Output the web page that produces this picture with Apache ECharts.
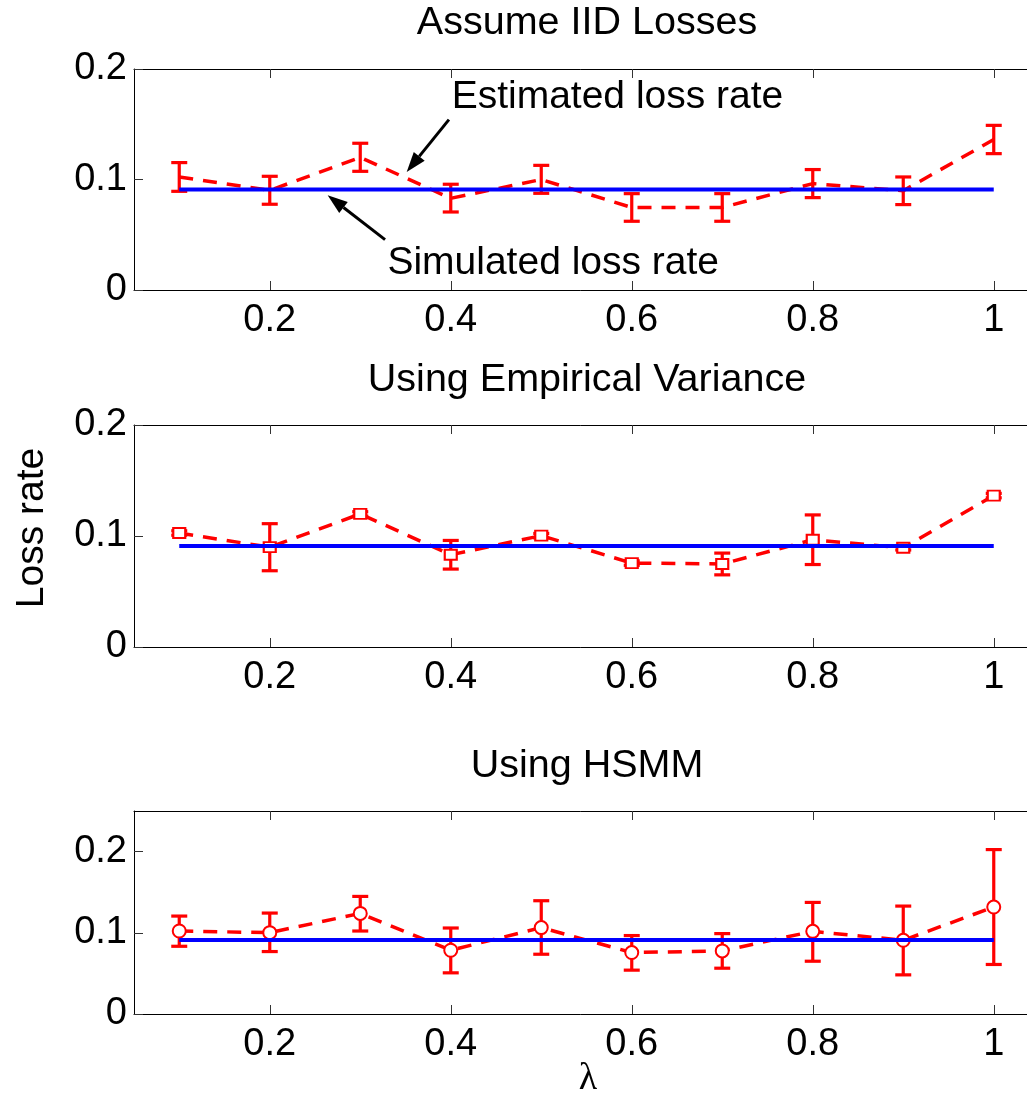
<!DOCTYPE html>
<html>
<head>
<meta charset="utf-8">
<script src="https://cdn.jsdelivr.net/npm/echarts@6/dist/echarts.min.js"></script>
<style>
  html, body { margin: 0; padding: 0; background: #fff; }
  #chart { width: 1027px; height: 1096px; }
</style>
</head>
<body>
<div id="chart"></div>
<script>
// lambda values on the x axis
const lambdaValues = [0.1, 0.2, 0.3, 0.4, 0.5, 0.6, 0.7, 0.8, 0.9, 1.0];
const simulatedRate = [0.091, 0.091, 0.091, 0.091, 0.091, 0.091, 0.091, 0.091, 0.091, 0.091];

// Assume IID Losses
const iidMean = [0.1023, 0.0902, 0.1200, 0.0830, 0.1000, 0.0747, 0.0747, 0.0963, 0.0898, 0.1362];
const iidLow  = [0.0893, 0.0776, 0.1074, 0.0706, 0.0875, 0.0622, 0.0622, 0.0836, 0.0773, 0.1234];
const iidHigh = [0.1153, 0.1029, 0.1328, 0.0957, 0.1128, 0.0872, 0.0872, 0.1090, 0.1023, 0.1490];

// Using Empirical Variance
const empMean = [0.1027, 0.0899, 0.1199, 0.0831, 0.1003, 0.0756, 0.0748, 0.0966, 0.0894, 0.1364];
const empLow  = [0.1007, 0.0687, 0.1179, 0.0702, 0.0983, 0.0736, 0.0650, 0.0743, 0.0874, 0.1344];
const empHigh = [0.1047, 0.1111, 0.1219, 0.0960, 0.1023, 0.0776, 0.0846, 0.1190, 0.0914, 0.1384];

// Using HSMM
const hsmmMean = [0.1022, 0.1002, 0.1239, 0.0785, 0.1064, 0.0757, 0.0777, 0.1018, 0.0908, 0.1317];
const hsmmLow  = [0.0834, 0.0769, 0.1022, 0.0507, 0.0736, 0.0540, 0.0564, 0.0650, 0.0482, 0.0610];
const hsmmHigh = [0.1206, 0.1243, 0.1448, 0.1059, 0.1395, 0.0966, 0.0990, 0.1374, 0.1329, 0.2025];

const xTicks = [0.2, 0.4, 0.6, 0.8, 1];
const yTicks = [0, 0.1, 0.2];
const panelTitles = ['Assume IID Losses', 'Using Empirical Variance', 'Using HSMM'];
const yMax = [0.2, 0.2, 0.25];

const FONT = '"Liberation Sans", Arial, Helvetica, sans-serif';
const RED = '#ff0000';
const BLUE = '#0000ff';

// plot boxes run past the right edge of the page, like the original
const grids = [
  { left: 134, top: 69, width: 905, height: 221, outerBoundsMode: 'none' },
  { left: 134, top: 425, width: 905, height: 222, outerBoundsMode: 'none' },
  { left: 134, top: 811, width: 905, height: 203, outerBoundsMode: 'none' }
];

const zip = (a, b) => a.map((v, i) => [v, b[i]]);
const zip3 = (a, b, c) => a.map((v, i) => [v, b[i], c[i]]);

function errRender(params, api){
  const x = api.value(0);
  const hi = api.coord([x, api.value(2)]);
  const lo = api.coord([x, api.value(1)]);
  const w = 8;
  const style = { stroke: RED, lineWidth: 3.2 };
  return {
    type: 'group',
    children: [
      { type: 'line', shape: { x1: hi[0], y1: hi[1], x2: lo[0], y2: lo[1] }, style },
      { type: 'line', shape: { x1: hi[0] - w, y1: hi[1], x2: hi[0] + w, y2: hi[1] }, style },
      { type: 'line', shape: { x1: lo[0] - w, y1: lo[1], x2: lo[0] + w, y2: lo[1] }, style }
    ]
  };
}

const xAxes = [], yAxes = [], series = [];
const panels = [
  { mean: iidMean, low: iidLow, high: iidHigh, symbol: 'none', size: 0, border: 3.5 },
  { mean: empMean, low: empLow, high: empHigh, symbol: 'emptyRect', size: [12, 10], border: 4.5 },
  { mean: hsmmMean, low: hsmmLow, high: hsmmHigh, symbol: 'emptyCircle', size: 13, border: 3.5 }
];

panels.forEach((p, i) => {
  xAxes.push({
    type: 'value', gridIndex: i, position: 'bottom', min: 0.05, max: 1.05,
    axisLine: { lineStyle: { color: '#000', width: 1 } },
    axisTick: { inside: true, length: 9, customValues: xTicks, lineStyle: { color: '#333' } },
    axisLabel: { customValues: xTicks, color: '#000', fontSize: 38, fontFamily: FONT, margin: 12 },
    splitLine: { show: false }
  });
  xAxes.push({
    type: 'value', gridIndex: i, position: 'top', min: 0.05, max: 1.05,
    axisLine: { lineStyle: { color: '#000', width: 1 } },
    axisTick: { inside: true, length: 9, customValues: xTicks, lineStyle: { color: '#333' } },
    axisLabel: { show: false },
    splitLine: { show: false }
  });
  yAxes.push({
    type: 'value', gridIndex: i, min: 0, max: yMax[i],
    axisLine: { show: true, lineStyle: { color: '#000', width: 1 } },
    axisTick: { show: true, inside: true, length: 9, customValues: yTicks, lineStyle: { color: '#333' } },
    axisLabel: { customValues: yTicks, color: '#000', fontSize: 38, fontFamily: FONT, margin: 7 },
    splitLine: { show: false }
  });
  series.push({
    type: 'custom', xAxisIndex: i * 2, yAxisIndex: i,
    renderItem: errRender, encode: { x: 0, y: [1, 2] },
    data: zip3(lambdaValues, p.low, p.high), z: 2
  });
  series.push({
    type: 'line', xAxisIndex: i * 2, yAxisIndex: i,
    data: zip(lambdaValues, p.mean),
    symbol: p.symbol, symbolSize: p.size, showSymbol: p.symbol !== 'none',
    lineStyle: { color: RED, width: 3.5, type: [14, 10] },
    itemStyle: { color: RED, borderColor: RED, borderWidth: p.border },
    z: 3
  });
  series.push({
    type: 'line', xAxisIndex: i * 2, yAxisIndex: i,
    data: zip(lambdaValues, simulatedRate),
    symbol: 'none', lineStyle: { color: BLUE, width: 4 }, z: 4
  });
});

const chart = echarts.init(document.getElementById('chart'), null, { renderer: 'canvas' });
chart.setOption({
  animation: false,
  backgroundColor: '#fff',
  grid: grids,
  xAxis: xAxes,
  yAxis: yAxes,
  series
});

// annotations in panel 1 data space
const notes = [
  { text: 'Estimated loss rate', at: [0.401, 0.1747], from: [0.398, 0.1542], to: [0.3513, 0.1068] },
  { text: 'Simulated loss rate', at: [0.330, 0.0246], from: [0.3274, 0.0456], to: [0.264, 0.0857] }
];

function arrow(a, b){
  const dx = b[0] - a[0], dy = b[1] - a[1];
  const len = Math.hypot(dx, dy);
  const ux = dx / len, uy = dy / len;
  const hl = 20, hw = 7;
  const bx = b[0] - ux * hl, by = b[1] - uy * hl;
  return [
    { type: 'line', shape: { x1: a[0], y1: a[1], x2: bx, y2: by }, style: { stroke: '#000', lineWidth: 3 } },
    { type: 'polygon', shape: { points: [b, [bx - uy * hw, by + ux * hw], [bx + uy * hw, by - ux * hw]] }, style: { fill: '#000' } }
  ];
}

const gfx = [];
notes.forEach(n => {
  const pt = chart.convertToPixel({ xAxisIndex: 0, yAxisIndex: 0 }, n.at);
  gfx.push({ type: 'text', x: pt[0], y: pt[1], style: { text: n.text, fontSize: 39, fontFamily: FONT, fill: '#000', align: 'left', verticalAlign: 'middle' } });
  const a = chart.convertToPixel({ xAxisIndex: 0, yAxisIndex: 0 }, n.from);
  const b = chart.convertToPixel({ xAxisIndex: 0, yAxisIndex: 0 }, n.to);
  gfx.push(...arrow(a, b));
});

const titleY = [23, 380, 766];
panelTitles.forEach((t, i) => {
  gfx.push({ type: 'text', x: 587, y: titleY[i], style: { text: t, fontSize: 39.5, fontFamily: FONT, fill: '#000', align: 'center', verticalAlign: 'middle' } });
});

gfx.push({ type: 'text', x: 32, y: 528, rotation: Math.PI / 2, style: { text: 'Loss rate', fontSize: 39, fontFamily: FONT, fill: '#000', align: 'center', verticalAlign: 'middle' } });
gfx.push({ type: 'text', x: 588, y: 1079, style: { text: 'λ', fontSize: 38, fontFamily: '"Liberation Serif", "Times New Roman", serif', fill: '#000', align: 'center', verticalAlign: 'middle' } });

chart.setOption({ graphic: gfx });
</script>
</body>
</html>
